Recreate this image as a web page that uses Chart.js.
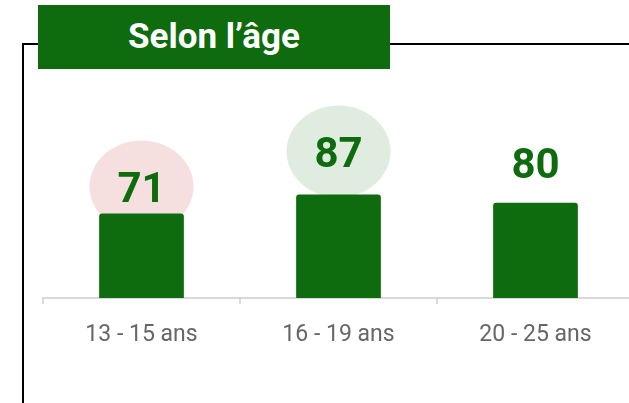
<!DOCTYPE html>
<html lang="fr">
<head>
<meta charset="utf-8">
<script src="https://cdn.jsdelivr.net/npm/chart.js@4.4.1/dist/chart.umd.min.js"></script>
<style>
  html, body { margin: 0; padding: 0; background: #fff; overflow: hidden; }
  body { width: 629px; height: 403px; position: relative; }
  .frame {
    position: absolute; left: 22px; top: 43px; width: 700px; height: 400px;
    border-top: 2px solid #000; border-left: 2px solid #000;
  }
  .title {
    position: absolute; left: 38px; top: 5px; width: 352px; height: 64px;
    background: #0e6b0e; color: #fff; z-index: 2;
    font: bold 35px Roboto, sans-serif; line-height: 64px; text-align: center;
  }
  .wrap { position: absolute; left: 0; top: 0; width: 640px; height: 403px; z-index: 1; }
</style>
</head>
<body>
<div class="frame"></div>
<div class="title">Selon l’âge</div>
<div class="wrap"><canvas id="ageChart"></canvas></div>
<script>
const categories = ['13 - 15 ans', '16 - 19 ans', '20 - 25 ans'];
const values = [71, 87, 80];

const green = '#0e6b0e';
// halo behind each value label (none on the last one)
const haloColors = ['#f6dfdf', '#e1ece1', null];
// how far each label's centre sits above its bar
const labelLift = [26, 42, 40];

const valueLabels = {
    id: 'valueLabels',
    beforeDatasetsDraw(chart) {
        const ctx = chart.ctx;
        const meta = chart.getDatasetMeta(0);
        meta.data.forEach((bar, i) => {
            if (!haloColors[i]) return;
            const cy = bar.y - labelLift[i];
            ctx.save();
            ctx.fillStyle = haloColors[i];
            ctx.beginPath();
            ctx.ellipse(bar.x, cy - 1, 52, 46, 0, 0, Math.PI * 2);
            ctx.fill();
            ctx.restore();
        });
    },
    afterDatasetsDraw(chart) {
        const ctx = chart.ctx;
        const meta = chart.getDatasetMeta(0);
        ctx.save();
        ctx.fillStyle = green;
        ctx.font = 'bold 42px Roboto';
        ctx.textAlign = 'center';
        ctx.textBaseline = 'alphabetic';
        meta.data.forEach((bar, i) => {
            const cy = bar.y - labelLift[i];
            ctx.fillText(String(values[i]), bar.x, cy + 42 * 0.355);
        });
        ctx.restore();
    }
};

const ctx = document.getElementById('ageChart').getContext('2d');
new Chart(ctx, {
    type: 'bar',
    data: {
        labels: categories,
        datasets: [{
            data: values,
            backgroundColor: green,
            borderWidth: 0,
            borderRadius: { topLeft: 3, topRight: 3, bottomLeft: 0, bottomRight: 0 },
            borderSkipped: false,
            categoryPercentage: 1,
            barPercentage: 0.43
        }]
    },
    options: {
        responsive: true,
        maintainAspectRatio: false,
        animation: false,
        layout: { padding: { left: 43, right: 6, top: 179, bottom: 0 } },
        plugins: { legend: { display: false }, tooltip: { enabled: false } },
        scales: {
            x: {
                afterFit: s => { s.height = 105; },
                grid: {
                    drawOnChartArea: false,
                    drawTicks: true,
                    tickLength: 6,
                    color: '#d9d9d9',
                    lineWidth: 2
                },
                border: { color: '#d9d9d9', width: 2 },
                ticks: {
                    color: '#666',
                    font: { family: 'Roboto', size: 23 },
                    padding: 17
                }
            },
            y: {
                display: false,
                min: 0,
                max: 100
            }
        }
    },
    plugins: [valueLabels]
});
</script>
</body>
</html>
